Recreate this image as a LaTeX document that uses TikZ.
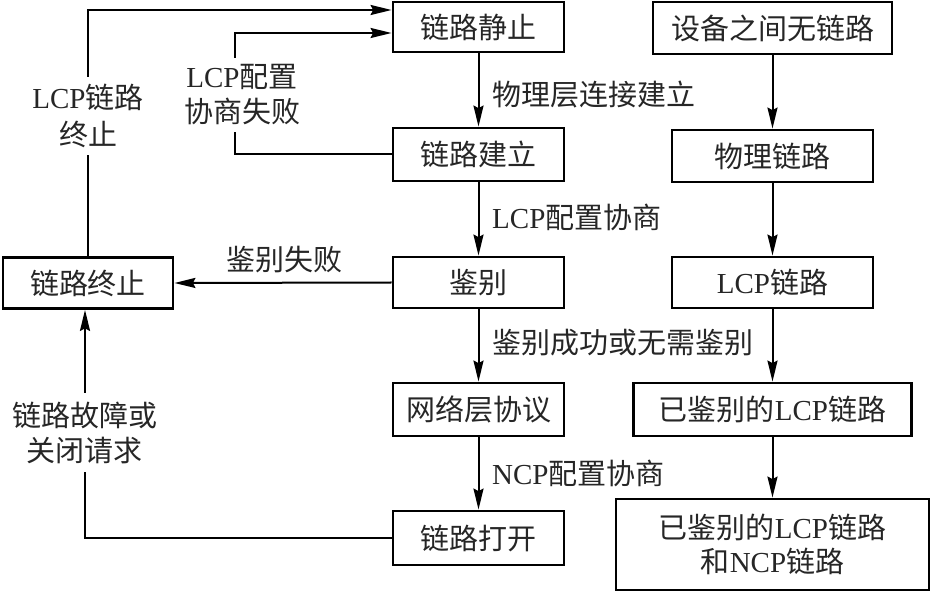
\documentclass[tikz,border=0pt]{standalone}
\usepackage{fontspec}
\setmainfont{Liberation Serif}
\newfontfamily\cjkfont{Noto Sans CJK SC}
\usetikzlibrary{arrows.meta,calc}
\newcommand\zh[1]{{\cjkfont #1}}
\begin{document}
\begin{tikzpicture}[x=1pt,y=-1pt,
  box/.style={draw,line width=2.8pt,inner sep=0pt,align=center,text=black!85,
    font=\fontsize{29}{34}\selectfont},
  lbl/.style={inner sep=0pt,align=center,text=black!85,font=\fontsize{29}{35}\selectfont},
  arr/.style={-{Stealth[length=21pt,width=10pt,inset=2.5pt]},line width=2pt},
  ln/.style={line width=2pt}]
\useasboundingbox (0,0) rectangle (932,593);
% centre column
\node[box,minimum width=171pt,minimum height=50pt] (n1) at (478.5,27) {\zh{链路静止}};
\node[box,minimum width=171pt,minimum height=53pt] (n2) at (478.5,154.5) {\zh{链路建立}};
\node[box,minimum width=171pt,minimum height=51pt] (n3) at (478.5,282.5) {\zh{鉴别}};
\node[box,minimum width=171pt,minimum height=53pt] (n4) at (478.5,409.5) {\zh{网络层协议}};
\node[box,minimum width=171pt,minimum height=54pt] (n5) at (478.5,538) {\zh{链路打开}};
% left
\node[box,minimum width=170pt,minimum height=51pt] (term) at (88,283) {\zh{链路终止}};
% right column
\node[box,minimum width=239pt,minimum height=52pt] (r1) at (772.5,28) {\zh{设备之间无链路}};
\node[box,minimum width=201pt,minimum height=52pt] (r2) at (772.5,156) {\zh{物理链路}};
\node[box,minimum width=201pt,minimum height=51pt] (r3) at (772.5,282.5) {LCP\zh{链路}};
\node[box,minimum width=278pt,minimum height=53pt] (r4) at (772.5,409.5) {\zh{已鉴别的}LCP\zh{链路}};
\node[box,minimum width=313pt,minimum height=91pt] (r5) at (772.5,544.5) {\zh{已鉴别的}LCP\zh{链路}\\\zh{和}NCP\zh{链路}};
% connector labels
\node[lbl,anchor=west] (t1) at (492,95) {\zh{物理层连接建立}};
\node[lbl,anchor=west] (t2) at (492,217) {LCP\zh{配置协商}};
\node[lbl,anchor=west] (t3) at (492,343) {\zh{鉴别成功或无需鉴别}};
\node[lbl,anchor=west] (t4) at (492,473) {NCP\zh{配置协商}};
\node[lbl] (t5) at (284,260) {\zh{鉴别失败}};
\node[lbl,font=\fontsize{29}{37}\selectfont,minimum height=78pt] (lab1) at (88,116) {LCP\zh{链路}\\\zh{终止}};
\node[lbl,minimum height=74pt] (lab2) at (242,95) {LCP\zh{配置}\\\zh{协商失败}};
\node[lbl,minimum height=79pt] (lab3) at (85,432.5) {\zh{链路故障或}\\\zh{关闭请求}};
\coordinate (k2) at (235,0);
\coordinate (k3) at (85,0);
% arrows
\draw[arr] (n1.south) -- (n2.north);
\draw[arr] (n2.south) -- (n3.north);
\draw[arr] (n3.south) -- (n4.north);
\draw[arr] (n4.south) -- (n5.north);
\draw[arr] (r1.south) -- (r2.north);
\draw[arr] (r2.south) -- (r3.north);
\draw[arr] (r3.south) -- (r4.north);
\draw[arr] (r4.south) -- (r5.north);
\draw[arr] (n3.west) -- (term.east);
\draw[ln] (term.north) -- (lab1.south);
\draw[arr] (lab1.north) -- ([yshift=17pt]n1.west -| lab1.north) -- ([yshift=17pt]n1.west);
\draw[ln] (n2.west) -- (n2.west -| k2) -- (lab2.south -| k2);
\draw[arr] (lab2.north -| k2) -- ([yshift=-6pt]n1.west -| k2) -- ([yshift=-6pt]n1.west);
\draw[arr] (lab3.north -| k3) -- (term.south -| k3);
\draw[ln] (lab3.south -| k3) -- (n5.west -| k3) -- (n5.west);
\end{tikzpicture}
\end{document}
